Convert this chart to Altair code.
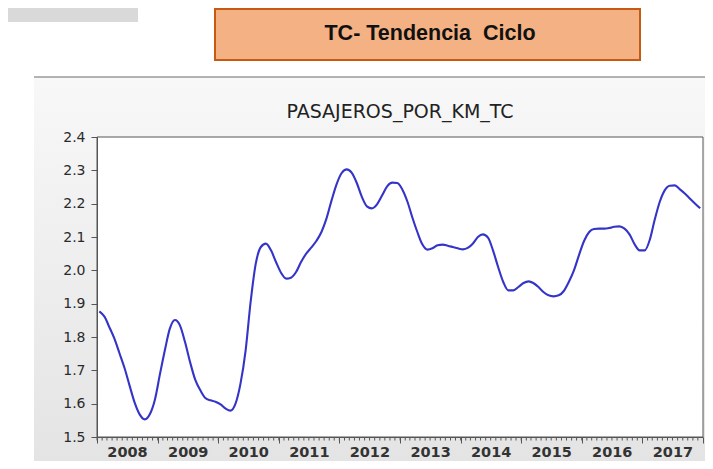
import altair as alt
import pandas as pd

# ---- data (monthly, 2008-01 .. 2017-12) ----
years = list(range(2008, 2018))
v2008 = [1.877, 1.861, 1.830, 1.795, 1.752, 1.707, 1.655, 1.603, 1.567, 1.553, 1.569, 1.612]
v2009 = [1.690, 1.765, 1.825, 1.851, 1.835, 1.784, 1.725, 1.672, 1.640, 1.617, 1.610, 1.606]
v2010 = [1.598, 1.585, 1.579, 1.600, 1.660, 1.760, 1.905, 2.020, 2.070, 2.080, 2.060, 2.025]
v2011 = [1.992, 1.975, 1.978, 1.995, 2.025, 2.050, 2.068, 2.088, 2.115, 2.155, 2.210, 2.258]
v2012 = [2.292, 2.303, 2.293, 2.262, 2.221, 2.192, 2.186, 2.198, 2.225, 2.252, 2.263, 2.262]
v2013 = [2.242, 2.205, 2.160, 2.115, 2.078, 2.062, 2.066, 2.075, 2.077, 2.074, 2.070, 2.066]
v2014 = [2.063, 2.068, 2.080, 2.100, 2.108, 2.098, 2.060, 2.010, 1.965, 1.940, 1.940, 1.950]
v2015 = [1.962, 1.967, 1.962, 1.950, 1.935, 1.925, 1.922, 1.925, 1.938, 1.965, 2.000, 2.045]
v2016 = [2.088, 2.115, 2.124, 2.125, 2.125, 2.127, 2.131, 2.132, 2.125, 2.108, 2.078, 2.060]
v2017 = [2.060, 2.093, 2.150, 2.205, 2.240, 2.254, 2.255, 2.243, 2.230, 2.215, 2.200, 2.186]
series = [v2008, v2009, v2010, v2011, v2012, v2013, v2014, v2015, v2016, v2017]

y_ticks = [1.5, 1.6, 1.7, 1.8, 1.9, 2.0, 2.1, 2.2, 2.3, 2.4]
box_title = "TC- Tendencia\u00a0 Ciclo"
chart_title = "PASAJEROS_POR_KM_TC"

dates, vals = [], []
for y, row in zip(years, series):
    for m, v in enumerate(row, start=1):
        dates.append(f"{y}-{m:02d}-15")
        vals.append(v)
df = pd.DataFrame({"fecha": dates, "valor": vals})

month_starts = [{"m": f"{y}-{m:02d}-01"} for y in years for m in range(1, 13)]

W, H = 606, 300
FONT = "DejaVu Sans"

x_scale = alt.Scale(
    type="utc",
    domain=[alt.DateTime(year=2008, month=1, date=1, utc=True),
            alt.DateTime(year=2018, month=1, date=1, utc=True)],
    nice=False,
)
x_axis = alt.Axis(
    title=None,
    values=[alt.DateTime(year=y, month=1, date=1, utc=True) for y in years + [2018]],
    labelExpr="utcyear(datum.value) < 2018 ? '' + utcyear(datum.value) : ''",
    labelOffset=30,
    labelFlush=False,
    labelOverlap=False,
    labelBound=False,
    tickSize=6,
    tickColor="#555555",
    domainColor="#555555",
    labelPadding=2,
    labelFont=FONT,
    labelFontSize=14.5,
    labelFontWeight="bold",
    labelColor="#333333",
    grid=False,
    zindex=1,
)
y_axis = alt.Axis(
    title=None,
    values=y_ticks,
    format=".1f",
    tickSize=6,
    tickColor="#555555",
    domainColor="#555555",
    labelPadding=6,
    labelFont=FONT,
    labelFontSize=14,
    labelColor="#2a2a2a",
    grid=False,
    zindex=1,
)

one = alt.Data(values=[{}])

corner = alt.Chart(one).mark_rect(color="#d9d9d9").encode(
    x=alt.value(-89), x2=alt.value(41), y=alt.value(-129), y2=alt.value(-115))

panel = alt.Chart(one).mark_rect(
    color=alt.Gradient(
        gradient="linear",
        stops=[alt.GradientStop(color="#f8f8f8", offset=0),
               alt.GradientStop(color="#e3e3e3", offset=1)],
        x1=0, x2=0, y1=0, y2=1,
    )
).encode(x=alt.value(-63), x2=alt.value(W + 20), y=alt.value(-60), y2=alt.value(H + 40))

panel_top = alt.Chart(one).mark_rule(color="#9a9a9a", strokeWidth=1.5).encode(
    x=alt.value(-63), x2=alt.value(W + 20), y=alt.value(-60))

box = alt.Chart(one).mark_rect(fill="#f4b183", stroke="#c55a11", strokeWidth=2).encode(
    x=alt.value(118), x2=alt.value(543), y=alt.value(-128), y2=alt.value(-77))

box_text = alt.Chart(one).mark_text(
    text=box_title, font="Liberation Sans", fontSize=21.5, fontWeight="bold", color="#111111",
    align="center", baseline="middle",
).encode(x=alt.value(333), y=alt.value(-103))

title_text = alt.Chart(one).mark_text(
    text=chart_title, font=FONT, fontSize=19, color="#222222",
    align="center", baseline="middle",
).encode(x=alt.value(303), y=alt.value(-25))

plot_bg = alt.Chart(one).mark_rect(fill="white", stroke="#555555", strokeWidth=1).encode(
    x=alt.value(0), x2=alt.value(W), y=alt.value(0), y2=alt.value(H))

line = alt.Chart(df).mark_line(color="#3434c8", strokeWidth=2.1, interpolate="monotone").encode(
    x=alt.X("fecha:T", scale=x_scale, axis=x_axis),
    y=alt.Y("valor:Q", scale=alt.Scale(domain=[1.5, 2.4], nice=False, zero=False), axis=y_axis),
)

minor = alt.Chart(alt.Data(values=month_starts)).mark_rule(color="#555555", strokeWidth=1).encode(
    x=alt.X("m:T"), y=alt.value(H), y2=alt.value(H + 3.5))

chart = alt.layer(corner, panel, panel_top, box, box_text, title_text, plot_bg, line, minor).properties(
    width=W, height=H,
    autosize=alt.AutoSizeParams(type="none"),
    padding={"left": 89, "top": 129, "right": 2, "bottom": 24},
    background="white",
).configure_view(stroke=None)

chart.save("out.html", embed_options={"renderer": "svg", "actions": False})
